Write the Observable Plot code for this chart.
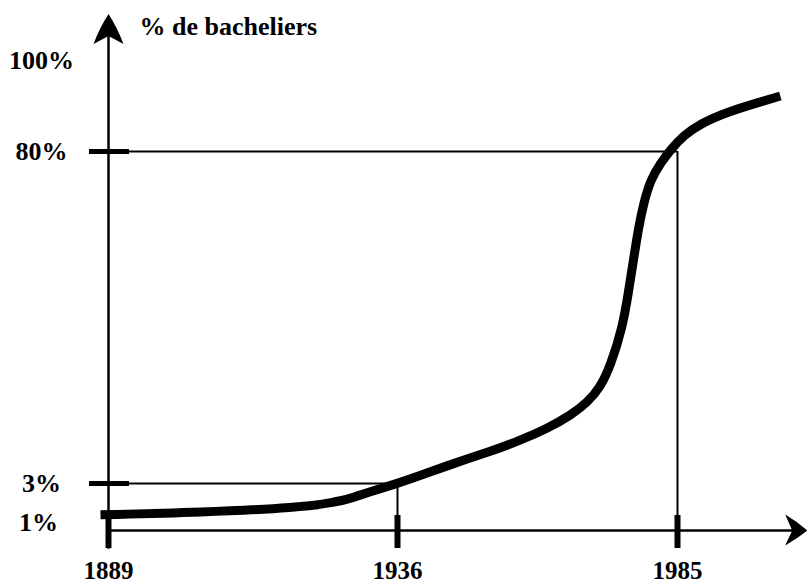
<!DOCTYPE html>
<html>
<head>
<meta charset="utf-8">
<script src="https://cdn.jsdelivr.net/npm/d3@7"></script>
<script src="https://cdn.jsdelivr.net/npm/@observablehq/plot@0.6"></script>
<style>
  body { margin: 0; background: #fff; }
  #chart svg { display: block; }
</style>
</head>
<body>
<div id="chart"></div>
<script>
// ---- data (read from the schematic) ----
const curveYears = [1887.7, 1904.0, 1920.2, 1925.6, 1928.4, 1931.1, 1936.0, 1940.0, 1945.8, 1951.75, 1957.5, 1962.25, 1966.3, 1969.25, 1971.5, 1973.3, 1975.4, 1976.4, 1977.3, 1978.2, 1979.1, 1980.3, 1982.1, 1983.8, 1986.05, 1989.0, 1993.7, 1999.5, 2003.0];
const curvePcts  = [1.0, 1.15, 1.47, 1.79, 2.04, 2.43, 3.0, 4.86, 7.65, 10.2, 13.0, 15.8, 18.8, 21.8, 25.3, 30.4, 39.3, 47.2, 54.9, 62.5, 68.1, 73.5, 77.4, 80.4, 83.5, 86.1, 88.7, 90.9, 92.2];

const xTickYears  = [1889, 1936, 1985];
const xTickLabels = ["1889", "1936", "1985"];
const yLabelValues = [100, 80, 3];
const yLabelTexts  = ["100%", "80%", "3%"];
const yLowValue = 1;
const yLowText = "1%";
const yTickMarks = [80, 3];
const refYears = [1936, 1985];
const refPcts  = [3, 80];
const axisTitle = "% de bacheliers";
const axisOrigin = {year: 1889, pct: 0};
const axisEnd = {year: 2007.7, pct: 110.2};

const curve = curveYears.map((year, i) => ({year, pct: curvePcts[i]}));
const refs = refYears.map((year, i) => ({year, pct: refPcts[i]}));
const yLabels = yLabelValues.map((pct, i) => ({pct, text: yLabelTexts[i]}));
const xLabels = xTickYears.map((year, i) => ({year, text: xTickLabels[i]}));

// filled concave arrowheads (tip at the symbol origin)
const arrowUp = {
  draw(ctx) {
    ctx.moveTo(0, 0);
    ctx.quadraticCurveTo(9, 14, 15, 30);
    ctx.lineTo(0, 22);
    ctx.lineTo(-15, 30);
    ctx.quadraticCurveTo(-9, 14, 0, 0);
    ctx.closePath();
  }
};
const arrowRight = {
  draw(ctx) {
    ctx.moveTo(0, 0);
    ctx.quadraticCurveTo(-10, -9, -22, -16);
    ctx.lineTo(-15, 0);
    ctx.lineTo(-22, 15);
    ctx.quadraticCurveTo(-10, 8, 0, 0);
    ctx.closePath();
  }
};

const font = "'Liberation Serif', 'Times New Roman', serif";

const chart = Plot.plot({
  width: 807,
  height: 586,
  margin: 0,
  style: {background: "#fff", fontFamily: font, color: "#000"},
  x: {type: "linear", domain: [1889, 1936, 1985], range: [108, 397, 677], axis: null},
  y: {type: "linear", domain: [0, 3, 80, 100], range: [530, 483, 151, 60], axis: null},
  marks: [
    // reference lines
    Plot.ruleY(refs, {y: "pct", x1: axisOrigin.year, x2: "year", stroke: "#000", strokeWidth: 2}),
    Plot.ruleX(refs, {x: "year", y1: axisOrigin.pct, y2: "pct", stroke: "#000", strokeWidth: 2}),
    // axes
    Plot.ruleX([axisOrigin], {x: "year", y1: -1.2, y2: axisEnd.pct - 4, stroke: "#000", strokeWidth: 2.5}),
    Plot.ruleY([axisOrigin], {y: "pct", x1: "year", x2: axisEnd.year - 2, stroke: "#000", strokeWidth: 2.5}),
    Plot.dot([axisEnd], {x: axisOrigin.year, y: "pct", symbol: arrowUp, fill: "#000", stroke: "none", r: 10}),
    Plot.dot([axisEnd], {x: "year", y: axisOrigin.pct, symbol: arrowRight, fill: "#000", stroke: "none", r: 10}),
    // thick ticks
    Plot.ruleY(yTickMarks, {y: d => d, x1: axisOrigin.year, x2: axisOrigin.year, insetLeft: -19, insetRight: -21, stroke: "#000", strokeWidth: 5}),
    Plot.ruleX(xTickYears, {x: d => d, y1: 0, y2: 0, insetTop: -15, insetBottom: -18, stroke: "#000", strokeWidth: 6}),
    // curve
    Plot.line(curve, {x: "year", y: "pct", curve: "basis", stroke: "#000", strokeWidth: 9, strokeLinecap: "butt", strokeLinejoin: "round"}),
    // labels
    Plot.text(yLabels, {x: axisOrigin.year, y: "pct", text: "text", dx: -67, textAnchor: "middle", fontSize: 26, fontWeight: "bold", fill: "#000"}),
    Plot.text([{pct: yLowValue, text: yLowText}], {x: axisOrigin.year, y: "pct", text: "text", dx: -70, dy: 8, textAnchor: "middle", fontSize: 26, fontWeight: "bold", fill: "#000"}),
    Plot.text(xLabels, {x: "year", y: axisOrigin.pct, text: "text", dy: 40, textAnchor: "middle", fontSize: 25, fontWeight: "bold", fill: "#000"}),
    Plot.text([axisEnd], {x: axisOrigin.year, y: "pct", text: () => axisTitle, dx: 31, dy: 13, textAnchor: "start", fontSize: 26, fontWeight: "bold", fill: "#000"})
  ]
});
document.getElementById("chart").appendChild(chart);
</script>
</body>
</html>
